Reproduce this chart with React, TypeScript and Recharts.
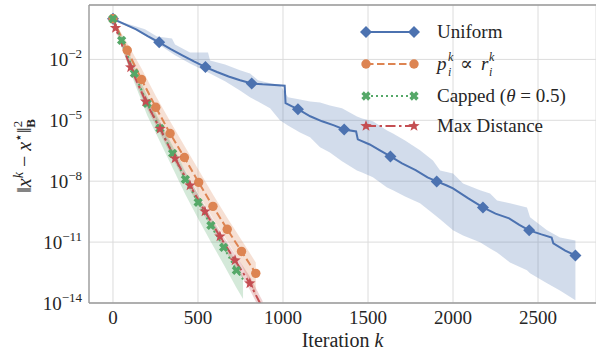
import React from 'react';
import { ComposedChart, Line, Area, XAxis, YAxis, CartesianGrid, ReferenceLine } from 'recharts';

const BLUE = '#4c72b0';
const ORANGE = '#dd8452';
const GREEN = '#55a868';
const RED = '#c44e52';
const TEXT = '#262626';
const FONT = "'Times New Roman', Times, 'Liberation Serif', 'Nimbus Roman', 'DejaVu Serif', serif";

// All values below are log10 of ||x^k - x*||^2_B, indexed by iteration k.

// Uniform sampling: mean curve, markers, and min/max band
const uniformK = [0, 68, 136, 204, 272, 340, 408, 476, 544, 612, 680, 748, 816, 880, 950, 1010, 1015, 1050, 1088, 1160, 1230, 1300, 1360, 1430, 1440, 1510, 1570, 1632, 1700, 1780, 1850, 1904, 1960, 2000, 2090, 2176, 2250, 2330, 2390, 2448, 2520, 2580, 2590, 2660, 2720];
const uniformExp = [0, -0.26, -0.52, -0.85, -1.16, -1.49, -1.8, -2.1, -2.38, -2.62, -2.84, -3.03, -3.19, -3.23, -3.26, -3.3, -4.15, -4.3, -4.45, -4.8, -5.05, -5.25, -5.45, -5.55, -5.94, -6.19, -6.48, -6.78, -7.12, -7.45, -7.81, -8.01, -8.2, -8.35, -8.85, -9.29, -9.6, -9.83, -10.15, -10.42, -10.62, -10.77, -11.06, -11.42, -11.66];
const uniformMarks = [0, 272, 544, 816, 1088, 1360, 1632, 1904, 2176, 2448, 2720];
const uniformBandK = [0, 41, 118, 188, 259, 347, 365, 453, 559, 571, 659, 747, 806, 853, 924, 982, 1029, 1100, 1159, 1218, 1276, 1347, 1435, 1465, 1529, 1612, 1647, 1718, 1806, 1882, 1924, 2000, 2059, 2159, 2218, 2259, 2335, 2435, 2453, 2553, 2629, 2720];
const uniformHi = [0.05, -0.13, -0.33, -0.52, -0.87, -0.97, -1.26, -1.66, -1.66, -2.05, -2.25, -2.54, -2.69, -3.03, -3.18, -3.25, -3.87, -3.97, -4.07, -4.12, -4.27, -4.41, -4.81, -4.91, -5.05, -5.5, -5.65, -5.99, -6.48, -6.98, -7.47, -7.62, -8.11, -8.45, -8.6, -8.95, -9.09, -9.29, -9.78, -10.42, -10.77, -10.92];
const uniformLo = [-0.05, -0.23, -0.47, -0.82, -1.21, -1.7, -1.8, -2.2, -2.64, -2.69, -3.08, -3.53, -3.87, -4.07, -4.41, -5.0, -5.25, -5.6, -5.84, -6.33, -6.58, -7.02, -7.47, -7.57, -7.81, -8.31, -8.45, -8.75, -9.09, -9.59, -9.88, -10.42, -10.67, -11.01, -11.31, -11.51, -12.0, -12.39, -12.54, -13.03, -13.38, -13.87];

// p_i^k proportional to r_i^k
const residualK = [0, 84, 168, 252, 336, 420, 504, 588, 672, 756, 840];
const residualExp = [0, -1.55, -2.99, -4.36, -5.65, -6.83, -8.06, -9.24, -10.37, -11.46, -12.54];
const residualHi = [0, -1.2, -2.45, -3.8, -5.05, -6.25, -7.45, -8.65, -9.8, -10.9, -12.0];
const residualLo = [0, -1.9, -3.5, -4.9, -6.2, -7.4, -8.65, -9.85, -10.95, -12.1, -13.7];

// Capped (theta = 0.5)
const cappedK = [0, 51, 126, 201, 276, 351, 426, 501, 576, 651, 726, 765];
const cappedExp = [0, -1.06, -2.69, -4.17, -5.4, -6.63, -7.91, -9.04, -10.18, -11.26, -12.39, -12.84];
const cappedMarks = [0, 51, 126, 201, 276, 351, 426, 501, 576, 651, 726];
const cappedHi = [0, -0.8, -2.35, -3.8, -5.05, -6.25, -7.5, -8.65, -9.8, -10.9, -12.0, -12.7];
const cappedLo = [0, -1.4, -3.15, -4.75, -6.05, -7.35, -8.65, -9.85, -11.0, -12.1, -13.25, -13.8];

// Max distance
const maxDistK = [0, 15, 104, 192, 277, 365, 453, 541, 629, 718, 805, 880];
const maxDistExp = [0, -0.45, -2.39, -4.07, -5.42, -6.88, -8.21, -9.49, -10.72, -11.9, -13.03, -14.25];
const maxDistMarks = [15, 104, 192, 277, 365, 453, 541, 629, 718, 805];
const maxDistHi = [0, -0.35, -2.2, -3.85, -5.2, -6.65, -7.95, -9.25, -10.45, -11.6, -12.7, -13.9];
const maxDistLo = [0, -0.55, -2.6, -4.3, -5.65, -7.1, -8.45, -9.75, -11.0, -12.2, -13.35, -14.6];

const xTicks = [0, 500, 1000, 1500, 2000, 2500];
const yTicks = [1e-14, 1e-11, 1e-8, 1e-5, 1e-2];
const Y_MIN = 1e-14;
const Y_MAX = 10 ** 0.68;

const lineRows = (ks: number[], exps: number[]) => ks.map((k, i) => ({ k, v: 10 ** exps[i] }));
const bandRows = (ks: number[], hi: number[], lo: number[]) =>
  ks.map((k, i) => ({ k, band: [10 ** lo[i], 10 ** hi[i]] }));

type MarkProps = { cx: number; cy: number; c: string };

const Diamond = ({ cx, cy, c }: MarkProps) => (
  <polygon points={`${cx},${cy - 6} ${cx + 6},${cy} ${cx},${cy + 6} ${cx - 6},${cy}`} fill={c} />
);
const Dot = ({ cx, cy, c }: MarkProps) => <circle cx={cx} cy={cy} r={4.7} fill={c} />;
const Cross = ({ cx, cy, c }: MarkProps) => {
  const a = 4.8;
  const b = 1.8;
  const pts = [[b, a], [b, b], [a, b], [a, -b], [b, -b], [b, -a], [-b, -a], [-b, -b], [-a, -b], [-a, b], [-b, b], [-b, a]];
  return (
    <polygon
      points={pts.map((p) => p.join(',')).join(' ')}
      transform={`translate(${cx},${cy}) rotate(45)`}
      fill={c}
    />
  );
};
const Star = ({ cx, cy, c }: MarkProps) => {
  const pts: string[] = [];
  for (let i = 0; i < 10; i++) {
    const r = i % 2 === 0 ? 6 : 2.5;
    const ang = -Math.PI / 2 + (i * Math.PI) / 5;
    pts.push(`${cx + r * Math.cos(ang)},${cy + r * Math.sin(ang)}`);
  }
  return <polygon points={pts.join(' ')} fill={c} />;
};

const markDot = (Shape: (p: MarkProps) => React.ReactElement, c: string, marks: number[]) =>
  (props: any) => {
    const { cx, cy, payload, index } = props;
    if (!marks.includes(payload.k)) return <g key={`m-${index}`} />;
    return (
      <g key={`m-${index}`}>
        <Shape cx={cx} cy={cy} c={c} />
      </g>
    );
  };

function YTick({ x, y, payload }: any) {
  const e = Math.round(Math.log10(payload.value));
  return (
    <text x={x - 7} y={y + 7} textAnchor="end" fontFamily={FONT} fontSize={19} fill={TEXT}>
      <tspan>10</tspan>
      <tspan dy={-8} fontSize={13}>{`\u2212${-e}`}</tspan>
    </text>
  );
}

function XTick({ x, y, payload }: any) {
  return (
    <text x={x} y={y + 21} textAnchor="middle" fontFamily={FONT} fontSize={19} fill={TEXT}>
      {payload.value}
    </text>
  );
}

function XLabel({ viewBox }: any) {
  const cx = viewBox.x + viewBox.width / 2;
  return (
    <text x={cx} y={viewBox.y + 44} textAnchor="middle" fontFamily={FONT} fontSize={20} fill={TEXT}>
      Iteration <tspan fontStyle="italic">k</tspan>
    </text>
  );
}

function YLabel({ viewBox }: any) {
  const cy = viewBox.y + viewBox.height / 2 + 2;
  return (
    <g transform={`translate(31,${cy}) rotate(-90)`}>
      <text x={0} y={0} textAnchor="middle" fontFamily={FONT} fontSize={20} fill={TEXT}>
        <tspan>‖</tspan>
        <tspan fontStyle="italic">x</tspan>
        <tspan dy={-8} fontSize={14} fontStyle="italic">k</tspan>
        <tspan dy={8}> − </tspan>
        <tspan fontStyle="italic">x</tspan>
        <tspan dy={-8} fontSize={14}>⋆</tspan>
        <tspan dy={8}>‖</tspan>
        <tspan dy={-9} fontSize={13}>2</tspan>
        <tspan dx={-7} dy={13} fontSize={13} fontWeight="bold">B</tspan>
      </text>
    </g>
  );
}

const legendRows = [
  { y: 32, c: BLUE, dash: undefined, Shape: Diamond },
  { y: 64, c: ORANGE, dash: '7.5 3.5', Shape: Dot },
  { y: 96, c: GREEN, dash: '2 3', Shape: Cross },
  { y: 126, c: RED, dash: '10 3.5 2.5 3.5', Shape: Star },
];

function LegendBlock() {
  return (
    <svg width={596} height={356} style={{ position: 'absolute', left: 0, top: 0, pointerEvents: 'none' }}>
      {legendRows.map(({ y, c, dash, Shape }, i) => (
        <g key={i}>
          <line x1={366} x2={414} y1={y} y2={y} stroke={c} strokeWidth={2} strokeDasharray={dash} />
          <Shape cx={366} cy={y} c={c} />
          <Shape cx={414} cy={y} c={c} />
        </g>
      ))}
      <g fontFamily={FONT} fontSize={19} fill={TEXT}>
        <text x={437} y={38}>Uniform</text>
        <text x={437} y={70}>
          <tspan fontStyle="italic">p</tspan>
          <tspan x={448} dy={-9} fontSize={12} fontStyle="italic">k</tspan>
          <tspan x={460} dy={9}>∝</tspan>
          <tspan x={481} fontStyle="italic">r</tspan>
          <tspan x={489} dy={-9} fontSize={12} fontStyle="italic">k</tspan>
        </text>
        <text x={448} y={76} fontSize={12} fontStyle="italic">i</text>
        <text x={489} y={76} fontSize={12} fontStyle="italic">i</text>
        <text x={437} y={102}>
          Capped (<tspan fontStyle="italic">θ</tspan> = 0.5)
        </text>
        <text x={437} y={132}>Max Distance</text>
      </g>
    </svg>
  );
}

export default function App() {
  const uniformLine = lineRows(uniformK, uniformExp);
  const uniformBand = bandRows(uniformBandK, uniformHi, uniformLo);
  const residualLine = lineRows(residualK, residualExp);
  const residualBand = bandRows(residualK, residualHi, residualLo);
  const cappedLine = lineRows(cappedK, cappedExp);
  const cappedBand = bandRows(cappedK, cappedHi, cappedLo);
  const maxDistLine = lineRows(maxDistK, maxDistExp);
  const maxDistBand = bandRows(maxDistK, maxDistHi, maxDistLo);

  return (
    <div style={{ position: 'absolute', left: 0, top: 0, width: 596, height: 356, background: '#fff' }}>
      <ComposedChart width={596} height={356} margin={{ top: 5, right: 0, bottom: 0, left: 0 }}>
        <CartesianGrid stroke="#dcdcdc" strokeWidth={1} />
        <XAxis
          type="number"
          dataKey="k"
          domain={[-141, 2841]}
          ticks={xTicks}
          allowDataOverflow
          height={53}
          tickLine={false}
          tickSize={0}
          tickMargin={0}
          tick={<XTick />}
          axisLine={{ stroke: '#9a9a9a', strokeWidth: 1.3 }}
          label={{ content: <XLabel /> }}
        />
        <YAxis
          scale="log"
          domain={[Y_MIN, Y_MAX]}
          ticks={yTicks}
          allowDataOverflow
          width={89}
          tickLine={false}
          tickSize={0}
          tickMargin={0}
          tick={<YTick />}
          axisLine={{ stroke: '#9a9a9a', strokeWidth: 1.3 }}
          label={{ content: <YLabel /> }}
        />
        <ReferenceLine y={Y_MAX} stroke="#9a9a9a" strokeWidth={1.3} />

        <Area data={uniformBand} dataKey="band" type="linear" stroke="none" fill={BLUE} fillOpacity={0.25} isAnimationActive={false} dot={false} activeDot={false} />
        <Area data={residualBand} dataKey="band" type="linear" stroke="none" fill={ORANGE} fillOpacity={0.25} isAnimationActive={false} dot={false} activeDot={false} />
        <Area data={cappedBand} dataKey="band" type="linear" stroke="none" fill={GREEN} fillOpacity={0.25} isAnimationActive={false} dot={false} activeDot={false} />
        <Area data={maxDistBand} dataKey="band" type="linear" stroke="none" fill={RED} fillOpacity={0.25} isAnimationActive={false} dot={false} activeDot={false} />

        <Line data={uniformLine} dataKey="v" type="linear" stroke={BLUE} strokeWidth={2} dot={markDot(Diamond, BLUE, uniformMarks)} activeDot={false} isAnimationActive={false} />
        <Line data={residualLine} dataKey="v" type="linear" stroke={ORANGE} strokeWidth={2} strokeDasharray="7.5 3.5" dot={markDot(Dot, ORANGE, residualK)} activeDot={false} isAnimationActive={false} />
        <Line data={cappedLine} dataKey="v" type="linear" stroke={GREEN} strokeWidth={2} strokeDasharray="2 3" dot={markDot(Cross, GREEN, cappedMarks)} activeDot={false} isAnimationActive={false} />
        <Line data={maxDistLine} dataKey="v" type="linear" stroke={RED} strokeWidth={2} strokeDasharray="10 3.5 2.5 3.5" dot={markDot(Star, RED, maxDistMarks)} activeDot={false} isAnimationActive={false} />
      </ComposedChart>
      <LegendBlock />
    </div>
  );
}
